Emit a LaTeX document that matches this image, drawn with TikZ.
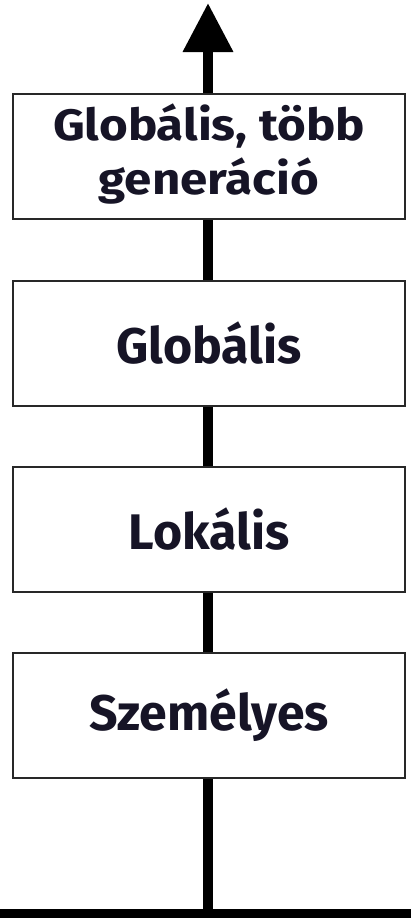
\documentclass[tikz,border=0pt]{standalone}
\usepackage{fontspec}
\setmainfont{Fira Sans}
\usetikzlibrary{arrows.meta}
\definecolor{txt}{RGB}{22,20,38}
\definecolor{edge}{RGB}{40,40,40}
\tikzset{
  levelbox/.style={draw=edge,line width=2pt,fill=white,minimum width=392pt,minimum height=125pt,inner sep=0pt,align=center,text=txt,font=\bfseries\fontsize{50}{56}\selectfont},
  smalltext/.style={font=\bfseries\fontsize{44}{54}\selectfont},
  spine/.style={line width=10pt,-{Triangle[width=48pt,length=49pt]}},
  baseline/.style={line width=9pt}
}
\begin{document}
\begin{tikzpicture}[x=1pt,y=-1pt]
\useasboundingbox (0,0) rectangle (411,918);
\coordinate (left) at (0,913.5);
\coordinate (right) at (411,913.5);
\coordinate (foot) at (208,913.5);
\coordinate (top) at (208,3);
\draw[baseline] (left) -- (right);
\draw[spine] (foot) -- (top);
\node[levelbox,smalltext] (b1) at (209,156.5) {\scalebox{1.12}[1]{\begin{tabular}{@{}c@{}}Globális, több\\generáció\end{tabular}}};
\node[levelbox] (b2) at (209,343.5) {Globális};
\node[levelbox] (b3) at (209,529.5) {Lokális};
\node[levelbox] (b4) at (209,715) {Személyes};
\end{tikzpicture}
\end{document}
